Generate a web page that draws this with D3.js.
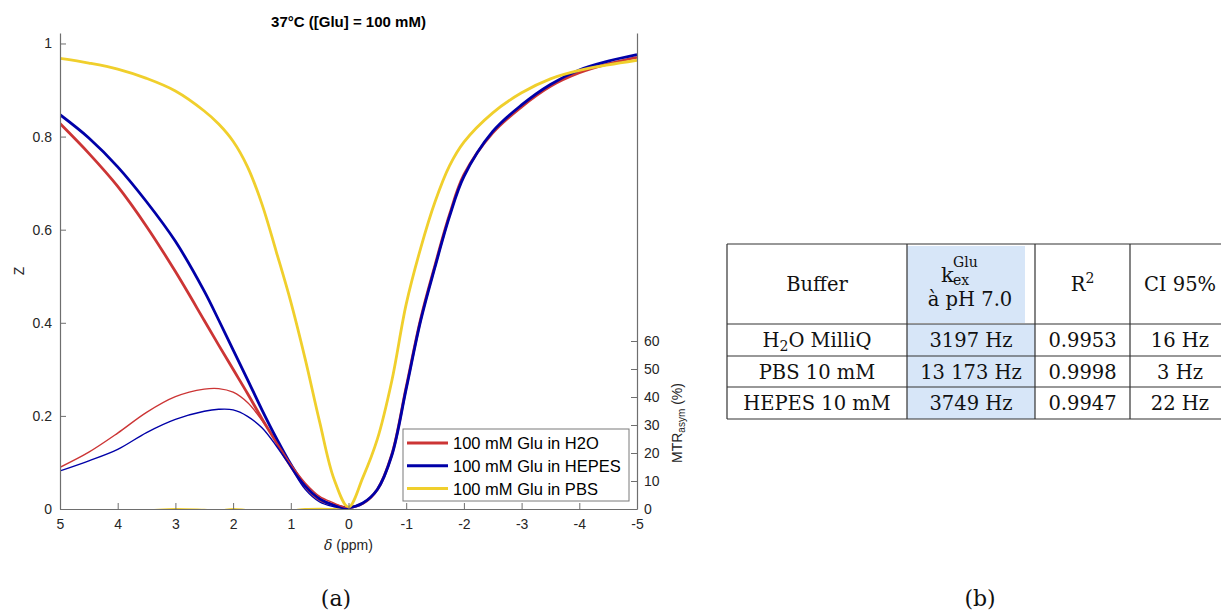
<!DOCTYPE html>
<html><head><meta charset="utf-8">
<script src="https://cdn.jsdelivr.net/npm/d3@7"></script>
<style>body{margin:0;background:#fff}</style>
</head><body>
<svg id="c" width="1221" height="612"></svg>
<script>
// ---------- data ----------
const delta  = [5,4.5,4,3.5,3,2.5,2.25,2,1.75,1.5,1.25,1,0.75,0.5,0.25,0,-0.25,-0.5,-0.75,-1,-1.25,-1.5,-1.75,-2,-2.5,-3,-3.5,-4,-4.5,-5];
const zH2O   = [.828,.764,.693,.607,.510,.405,.352,.300,.248,.194,.143,.092,.048,.020,.009,.003,.012,.042,.117,.262,.408,.524,.632,.718,.808,.864,.908,.937,.956,.970];
const zHEPES = [.847,.797,.735,.660,.575,.468,.406,.342,.278,.213,.152,.096,.050,.022,.008,.003,.013,.042,.115,.258,.404,.520,.628,.714,.811,.868,.912,.943,.962,.976];
const zPBS   = [.968,.958,.945,.925,.898,.855,.827,.790,.735,.655,.552,.445,.322,.187,.064,.004,.068,.150,.275,.440,.560,.660,.737,.788,.851,.894,.924,.942,.954,.964];

const deltaMTR  = [5,4.5,4,3.5,3,2.5,2.25,2,1.75,1.5,1.25,1,0.75,0.5,0.25,0];
const mtrH2O    = [14.9,20.3,27.1,34.5,40.1,42.8,43.0,41.7,38.0,31.7,24.0,16.0,9.3,4.5,2.1,0];
const mtrHEPES  = [13.6,17.2,21.3,27.3,32.0,34.9,35.6,35.4,33.1,29.0,22.5,14.9,7.0,2.5,0.8,0];
const mtrPBS    = [-0.8,-0.6,-0.5,-0.3,0.1,-0.2,-0.4,0.1,-0.3,-0.5,-0.6,-0.4,0.1,0.2,0.1,0];

const seriesNames = ["100 mM Glu in H2O","100 mM Glu in HEPES","100 mM Glu in PBS"];
const seriesColors = ["#cc3535","#0000a8","#f0cf2c"];
const xTicks  = [5,4,3,2,1,0,-1,-2,-3,-4,-5];
const yTicks  = [0,0.2,0.4,0.6,0.8,1];
const y2Ticks = [0,10,20,30,40,50,60];
const title = "37°C ([Glu] = 100 mM)";

const tableBuffers = ["H2O MilliQ","PBS 10 mM","HEPES 10 mM"];
const tableKex = ["3197 Hz","13 173 Hz","3749 Hz"];
const tableR2  = ["0.9953","0.9998","0.9947"];
const tableCI  = ["16 Hz","3 Hz","22 Hz"];

// ---------- chart ----------
const svg = d3.select("#c");
const L = 60, R = 637, T = 33, B = 509;
const x = d3.scaleLinear().domain([5,-5]).range([L,R]);
const y = d3.scaleLinear().domain([0,1.0225]).range([B,T]);
const y2 = d3.scaleLinear().domain([0,170]).range([B,T]);
const sans = "'Liberation Sans', Arial, sans-serif";
const serif = "'DejaVu Serif', serif";
const axisCol = "#6e6e6e", txtCol = "#262626";

svg.append("defs").append("clipPath").attr("id","clip")
  .append("rect").attr("x",L).attr("y",T).attr("width",R-L).attr("height",B-T);

const g = svg.append("g").attr("clip-path","url(#clip)");
const zSeries = [zH2O,zHEPES,zPBS];
const mtrSeries = [mtrH2O,mtrHEPES,mtrPBS];
const curve = d3.curveCatmullRom.alpha(0.5);
const lineZ = d3.line().x((d,i)=>x(delta[i])).y(d=>y(d)).curve(curve);
const lineM = d3.line().x((d,i)=>x(deltaMTR[i])).y(d=>y2(d)).curve(curve);

g.append("path").datum(mtrPBS).attr("d",lineM).attr("fill","none")
  .attr("stroke",seriesColors[2]).attr("stroke-width",1.4);
zSeries.forEach((s,i)=>{
  g.append("path").datum(s).attr("d",lineZ).attr("fill","none")
   .attr("stroke",seriesColors[i]).attr("stroke-width",2.8).attr("stroke-linejoin","round");
});
[0,1].forEach(i=>{
  g.append("path").datum(mtrSeries[i]).attr("d",lineM).attr("fill","none")
   .attr("stroke",seriesColors[i]).attr("stroke-width",1.4);
});

function styleAxis(sel){
  sel.selectAll(".domain").attr("stroke",axisCol).attr("stroke-width",1.2);
  sel.selectAll(".tick line").attr("stroke",axisCol);
  sel.selectAll("text").attr("fill",txtCol).style("font-family",sans).style("font-size","14px");
}
const ax = svg.append("g").attr("transform",`translate(0,${B})`)
  .call(d3.axisBottom(x).tickValues(xTicks).tickSizeInner(-6).tickSizeOuter(0).tickPadding(10).tickFormat(d=>String(d)));
styleAxis(ax);
const ay = svg.append("g").attr("transform",`translate(${L},0)`)
  .call(d3.axisLeft(y).tickValues(yTicks).tickSizeInner(-6).tickSizeOuter(0).tickPadding(8).tickFormat(d=>String(d)));
styleAxis(ay);
const ay2 = svg.append("g").attr("transform",`translate(${R},0)`)
  .call(d3.axisRight(y2).tickValues(y2Ticks).tickSizeInner(-6).tickSizeOuter(0).tickPadding(7).tickFormat(d=>String(d)));
styleAxis(ay2);

// title and labels
svg.append("text").attr("x",(L+R)/2).attr("y",27).attr("text-anchor","middle")
  .style("font-family",sans).style("font-size","15px").style("font-weight","bold").attr("fill","#000").text(title);
const xl = svg.append("text").attr("x",(L+R)/2).attr("y",550).attr("text-anchor","middle")
  .style("font-family",sans).style("font-size","14px").attr("fill",txtCol);
xl.append("tspan").style("font-style","italic").style("font-family","'DejaVu Serif', serif").text("δ");
xl.append("tspan").text(" (ppm)");
svg.append("text").attr("transform","translate(24,271) rotate(-90)").attr("text-anchor","middle")
  .style("font-family",sans).style("font-size","14px").attr("fill",txtCol).text("Z");
const ml = svg.append("text").attr("transform","translate(682,423) rotate(-90)").attr("text-anchor","middle")
  .style("font-family",sans).style("font-size","14px").attr("fill",txtCol);
ml.append("tspan").text("MTR");
ml.append("tspan").attr("baseline-shift","-25%").style("font-size","10px").text("asym");
ml.append("tspan").text(" (%)");

// legend
const lg = svg.append("g");
lg.append("rect").attr("x",403).attr("y",429).attr("width",226).attr("height",72)
  .attr("fill","#fff").attr("stroke","#7a7a7a").attr("stroke-width",1);
seriesNames.forEach((n,i)=>{
  const yy = 443 + i*22.8;
  lg.append("line").attr("x1",407).attr("x2",448).attr("y1",yy).attr("y2",yy)
    .attr("stroke",seriesColors[i]).attr("stroke-width",3);
  lg.append("text").attr("x",453).attr("y",yy+6).style("font-family",sans).style("font-size","16.5px")
    .attr("fill","#000").text(n);
});

// ---------- table ----------
const cols = [727,907,1035,1130,1228];
const rows = [244,324,356,387,419];
const tb = svg.append("g");
const fillC = "#d7e6f8";
tb.append("rect").attr("x",cols[1]).attr("y",rows[0]+2).attr("width",1025-cols[1]).attr("height",rows[1]-rows[0]-3).attr("fill",fillC);
tb.append("rect").attr("x",cols[1]).attr("y",rows[1]).attr("width",cols[2]-cols[1]).attr("height",rows[4]-rows[1]).attr("fill",fillC);
rows.forEach(r=>tb.append("line").attr("x1",cols[0]).attr("x2",cols[4]).attr("y1",r).attr("y2",r).attr("stroke","#333").attr("stroke-width",1.2));
cols.forEach(c=>tb.append("line").attr("x1",c).attr("x2",c).attr("y1",rows[0]).attr("y2",rows[4]).attr("stroke","#333").attr("stroke-width",1.2));
const cx = [817,971,1082.5,1180];
const tf = (sel)=>sel.style("font-family",serif).style("font-size","19.5px").attr("fill","#111").attr("text-anchor","middle");
tf(tb.append("text").attr("x",cx[0]).attr("y",291)).text("Buffer");
tf(tb.append("text").attr("x",941).attr("y",282)).attr("text-anchor","start").style("font-size","21px").text("k");
tf(tb.append("text").attr("x",953).attr("y",267)).attr("text-anchor","start").style("font-size","14px").text("Glu");
tf(tb.append("text").attr("x",953).attr("y",285)).attr("text-anchor","start").style("font-size","14px").text("ex");
tf(tb.append("text").attr("x",cx[1]-1).attr("y",306)).text("à pH 7.0");
const r2 = tf(tb.append("text").attr("x",cx[2]).attr("y",291));
r2.append("tspan").text("R");
r2.append("tspan").attr("dy",-8).style("font-size","14px").text("2");
tf(tb.append("text").attr("x",cx[3]).attr("y",291)).text("CI 95%");
tableBuffers.forEach((b,i)=>{
  const yy = (rows[i+1]+rows[i+2])/2 + 7;
  const t = tf(tb.append("text").attr("x",cx[0]).attr("y",yy));
  if (b.startsWith("H2O")) {
    t.append("tspan").text("H");
    t.append("tspan").attr("dy",4).style("font-size","14px").text("2");
    t.append("tspan").attr("dy",-4).text("O" + b.slice(3));
  } else t.text(b);
  tf(tb.append("text").attr("x",cx[1]).attr("y",yy)).text(tableKex[i]);
  tf(tb.append("text").attr("x",cx[2]).attr("y",yy)).text(tableR2[i]);
  tf(tb.append("text").attr("x",cx[3]).attr("y",yy)).text(tableCI[i]);
});

// captions
svg.append("text").attr("x",336).attr("y",606).attr("text-anchor","middle").style("font-family",serif).style("font-size","22px").attr("fill","#111").text("(a)");
svg.append("text").attr("x",980).attr("y",606).attr("text-anchor","middle").style("font-family",serif).style("font-size","22px").attr("fill","#111").text("(b)");
</script>
</body></html>
